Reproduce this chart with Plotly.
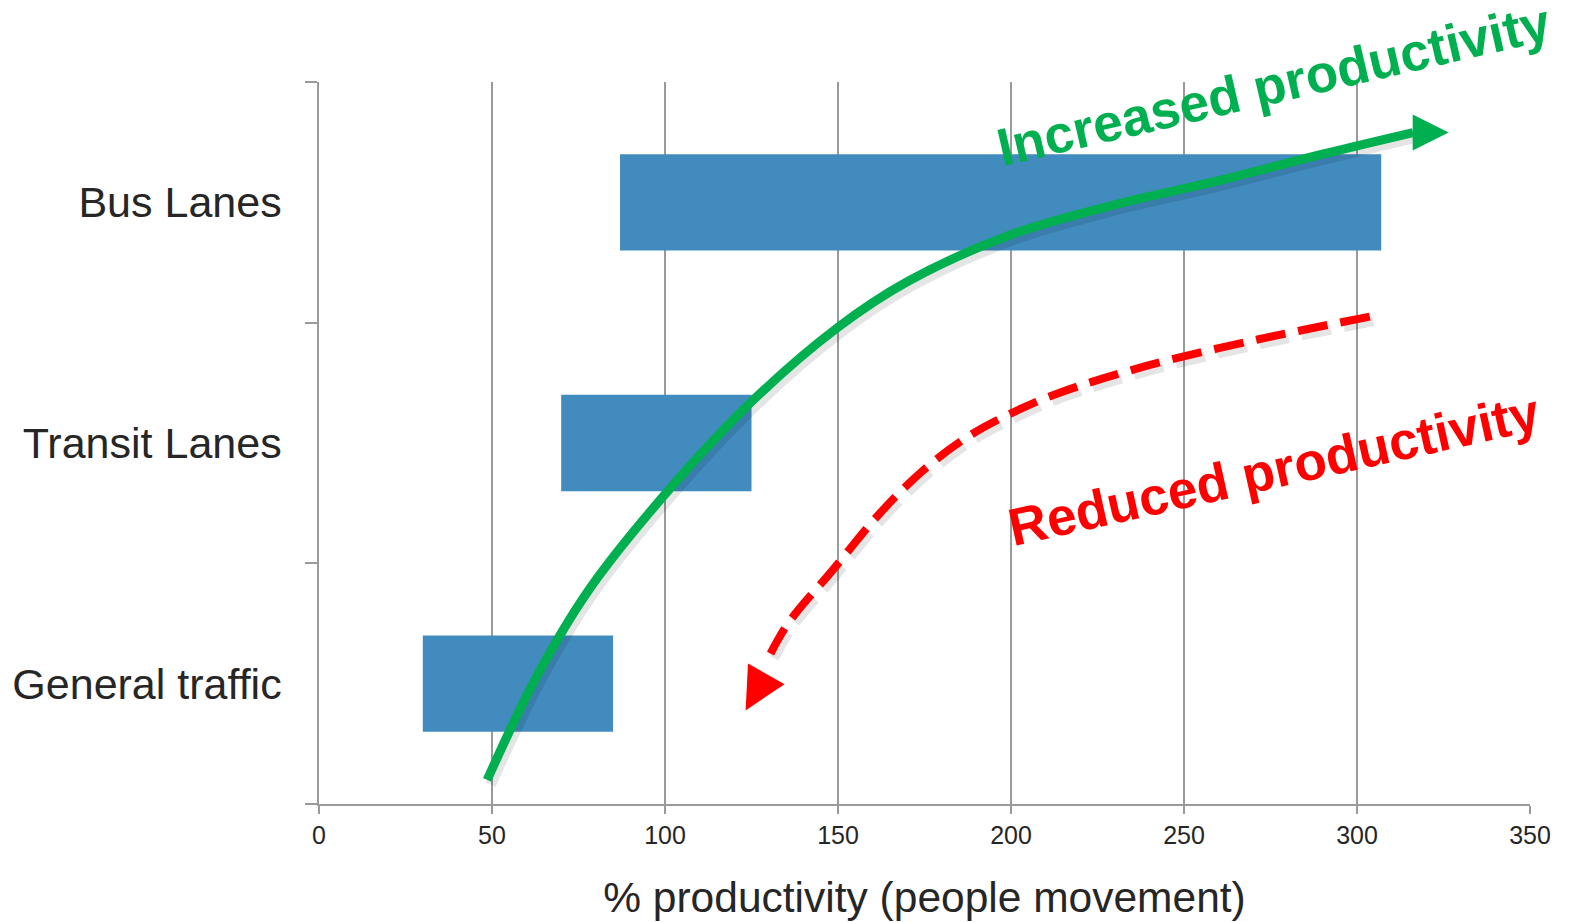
import numpy as np
import plotly.graph_objects as go

# Lane types and the productivity range each one spans (% people movement)
lanes = ["General traffic", "Transit Lanes", "Bus Lanes"]
range_start = [30, 70, 87]
range_end = [85, 125, 307]

x_tick_values = [0, 50, 100, 150, 200, 250, 300, 350]
x_title = "% productivity (people movement)"

# Trend arrows, in axis units (x: % productivity, y: lane index)
up_x = [48.6, 62.4, 78.0, 100.2, 124.9, 149.9, 170.0, 199.9, 230.0,
        260.0, 290.0, 316.2]
up_y = [-0.40, 0.016, 0.39, 0.79, 1.17, 1.48, 1.67, 1.865, 1.99,
        2.09, 2.20, 2.29]
up_tip = (326.5, 2.29)

down_x = [303.7, 271.3, 239.1, 213.3, 200.3, 187.4, 174.5, 161.6, 148.7,
          135.8, 130.5]
down_y = [1.525, 1.43, 1.32, 1.205, 1.125, 1.025, 0.885, 0.70, 0.476,
          0.255, 0.125]
down_tail = (129.0, 0.034)
down_tip = (123.3, -0.111)

up_label = "Increased productivity"
up_label_pos = (276.0, 2.488)
down_label = "Reduced productivity"
down_label_pos = (275.9, 0.888)

GREEN = "#00B050"
RED = "#FF0000"
BAR = "#418BBF"
GRID = "#9A9A9A"
TEXT = "#262626"
FONT = "Liberation Sans, Arial, sans-serif"
RED_DASH = "30px,13px"

fig = go.Figure()

# Floating range bars
fig.add_trace(go.Bar(
    y=lanes,
    x=np.array(range_end) - np.array(range_start),
    base=range_start,
    orientation="h",
    width=0.4,
    marker=dict(color=BAR, line=dict(width=0)),
    hoverinfo="skip",
    showlegend=False,
))

# Soft drop shadows under the arrows (a few pixels down and right)
sx, sy = 3.5 / 3.46, -4.5 / 240.7
for xs, ys, dash, w in [(up_x, up_y, "solid", 11), (down_x, down_y, RED_DASH, 10)]:
    fig.add_trace(go.Scatter(
        x=np.array(xs) + sx, y=np.array(ys) + sy, xaxis="x", yaxis="y2",
        mode="lines", line=dict(color="rgba(0,0,0,0.10)", width=w, shape="spline",
                                 smoothing=1.0, dash=dash),
        hoverinfo="skip", showlegend=False,
    ))

# Increasing productivity arrow
fig.add_trace(go.Scatter(
    x=up_x, y=up_y, xaxis="x", yaxis="y2", mode="lines",
    line=dict(color=GREEN, width=9, shape="spline", smoothing=1.0),
    hoverinfo="skip", showlegend=False,
))

# Decreasing productivity arrow (dashed)
fig.add_trace(go.Scatter(
    x=down_x, y=down_y, xaxis="x", yaxis="y2", mode="lines",
    line=dict(color=RED, width=8, shape="spline", smoothing=1.0, dash=RED_DASH),
    hoverinfo="skip", showlegend=False,
))

annotations = [
    dict(x=up_tip[0], y=up_tip[1], ax=up_x[-1], ay=up_y[-1],
         xref="x", yref="y2", axref="x", ayref="y2", text="",
         showarrow=True, arrowhead=2, arrowsize=0.8, arrowwidth=9,
         arrowcolor=GREEN),
    dict(x=down_tip[0], y=down_tip[1], ax=down_tail[0], ay=down_tail[1],
         xref="x", yref="y2", axref="x", ayref="y2", text="",
         showarrow=True, arrowhead=2, arrowsize=1.05, arrowwidth=8,
         arrowcolor=RED),
    dict(x=up_label_pos[0], y=up_label_pos[1], xref="x", yref="y2",
         text=f"<b>{up_label}</b>", showarrow=False, textangle=-13,
         font=dict(family=FONT, size=53, color=GREEN)),
    dict(x=down_label_pos[0], y=down_label_pos[1], xref="x", yref="y2",
         text=f"<b>{down_label}</b>", showarrow=False, textangle=-12.5,
         font=dict(family=FONT, size=53, color=RED)),
]

fig.update_layout(
    width=1577, height=922,
    margin=dict(l=319, r=47, t=82, b=118),
    paper_bgcolor="white", plot_bgcolor="white",
    font=dict(family=FONT, color=TEXT),
    barmode="overlay",
    showlegend=False,
    annotations=annotations,
    xaxis=dict(
        range=[0, 350], tickvals=x_tick_values, showgrid=True,
        gridcolor=GRID, gridwidth=1.5, zeroline=False,
        showline=True, linecolor=GRID, linewidth=1.5,
        ticks="outside", ticklen=8, tickwidth=1.5, tickcolor=GRID,
        tickfont=dict(size=25, color=TEXT), automargin=False,
        title=dict(text=x_title, font=dict(size=42.5, color=TEXT), standoff=34),
    ),
    yaxis=dict(
        type="category", categoryorder="array", categoryarray=lanes,
        range=[-0.5, 2.5], tickson="boundaries", showgrid=False,
        zeroline=False, showline=True, linecolor=GRID, linewidth=1.5,
        ticks="outside", ticklen=12, tickwidth=1.5, tickcolor=GRID,
        tickfont=dict(size=43, color=TEXT), ticklabelstandoff=27,
        automargin=False,
    ),
    yaxis2=dict(
        overlaying="y", range=[-0.5, 2.5], visible=False, fixedrange=True,
    ),
)

fig.write_html("out.html")
